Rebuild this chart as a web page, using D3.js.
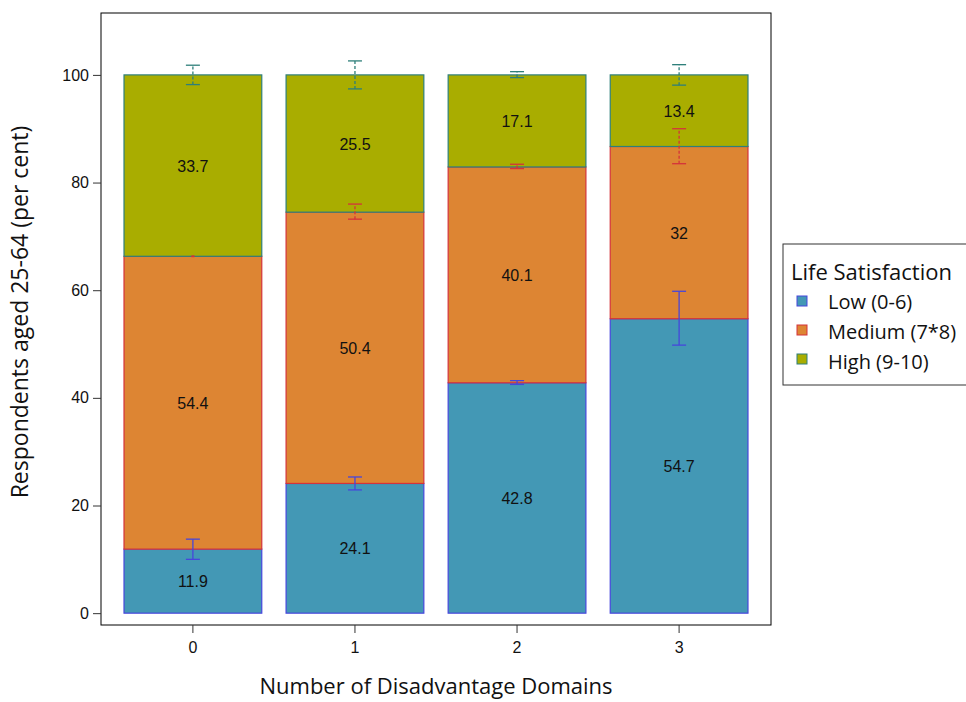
<!DOCTYPE html>
<html>
<head>
<meta charset="utf-8">
<script src="https://cdn.jsdelivr.net/npm/d3@7"></script>
<style>
  body { margin: 0; background: #fff; }
  svg { display: block; }
</style>
</head>
<body>
<svg width="966" height="702"></svg>
<script>
// categories and series
var domains = ["0", "1", "2", "3"];
var seriesNames = ["Low (0-6)", "Medium (7*8)", "High (9-10)"];
var low = [11.9, 24.1, 42.8, 54.7];
var medium = [54.4, 50.4, 40.1, 32];
var high = [33.7, 25.5, 17.1, 13.4];
// confidence intervals of the cumulative tops
var lowCI = [[10.0, 13.75], [22.9, 25.3], [42.5, 43.2], [49.8, 59.8]];
var mediumCI = [[66.25, 66.35], [73.2, 76.0], [82.6, 83.4], [83.5, 90.0]];
var highCI = [[98.2, 101.8], [97.4, 102.6], [99.5, 100.6], [98.1, 101.9]];
var yTicks = [0, 20, 40, 60, 80, 100];

var fills = ["#4398b5", "#dd8533", "#a9ad00"];
var strokes = ["#4646dc", "#d4333a", "#2e7f7a"];

var margin = {top: 13, right: 195, bottom: 77, left: 101},
    width = 966 - margin.left - margin.right,
    height = 702 - margin.top - margin.bottom;

var x = d3.scaleBand()
    .domain(domains)
    .range([0, width])
    .paddingInner(0.15)
    .paddingOuter(0.142);
var y = d3.scaleLinear()
    .domain([-2.2, 111.5])
    .range([height, 0]);

var svg = d3.select("svg")
  .append("g")
    .attr("transform", "translate(" + margin.left + "," + margin.top + ")");

// build stacked rows
var rows = domains.map(function(d, i) {
    return {dom: d, vals: [low[i], medium[i], high[i]], ci: [lowCI[i], mediumCI[i], highCI[i]]};
});

rows.forEach(function(r) {
    var base = 0;
    r.vals.forEach(function(v, k) {
        var y0 = base, y1 = k == 2 ? 100 : base + v;
        svg.append("rect")
            .attr("x", x(r.dom))
            .attr("width", x.bandwidth())
            .attr("y", y(y1))
            .attr("height", y(y0) - y(y1))
            .style("fill", fills[k])
            .style("stroke", strokes[k])
            .style("stroke-width", 1.2);
        base = y1;
    });
});

// value labels
rows.forEach(function(r) {
    var base = 0;
    r.vals.forEach(function(v, k) {
        var top = k == 2 ? 100 : base + v;
        svg.append("text")
            .attr("x", x(r.dom) + x.bandwidth() / 2)
            .attr("y", y((base + top) / 2) + 6)
            .attr("text-anchor", "middle")
            .style("font-family", "Liberation Sans, Arial, sans-serif")
            .style("font-size", "16px")
            .style("fill", "#111")
            .text(v);
        base = top;
    });
});

// error bars
rows.forEach(function(r) {
    var cx = x(r.dom) + x.bandwidth() / 2;
    r.ci.forEach(function(c, k) {
        var g = svg.append("g").style("stroke", strokes[k]).style("stroke-width", 1.3);
        var capW = (c[1] - c[0]) < 0.3 ? 1.5 : 7;
        g.append("line")
            .attr("x1", cx).attr("x2", cx)
            .attr("y1", y(c[0])).attr("y2", y(c[1]))
            .style("stroke-dasharray", k == 0 ? null : "3,2");
        c.forEach(function(e) {
            g.append("line")
                .attr("x1", cx - capW).attr("x2", cx + capW)
                .attr("y1", y(e)).attr("y2", y(e));
        });
    });
});

// frame
svg.append("rect")
    .attr("width", width)
    .attr("height", height)
    .style("fill", "none")
    .style("stroke", "#000")
    .style("stroke-width", 1);

// y axis
var yAxis = svg.append("g")
    .call(d3.axisLeft(y).tickValues(yTicks).tickSize(8).tickPadding(4));
yAxis.select(".domain").remove();
yAxis.selectAll("line").style("stroke", "#333");
yAxis.selectAll("text")
    .style("font-family", "Liberation Sans, Arial, sans-serif")
    .style("font-size", "16px")
    .style("fill", "#111");

// x axis
var xAxis = svg.append("g")
    .attr("transform", "translate(0," + height + ")")
    .call(d3.axisBottom(x).tickSize(8).tickPadding(9));
xAxis.select(".domain").remove();
xAxis.selectAll("line").style("stroke", "#333");
xAxis.selectAll("text")
    .style("font-family", "Liberation Sans, Arial, sans-serif")
    .style("font-size", "16px")
    .style("fill", "#111");

// axis titles
svg.append("text")
    .attr("x", width / 2)
    .attr("y", height + 69)
    .attr("text-anchor", "middle")
    .style("font-family", "Open Sans, sans-serif")
    .style("font-size", "22px")
    .style("fill", "#111")
    .text("Number of Disadvantage Domains");

svg.append("text")
    .attr("transform", "translate(-73," + (312 - margin.top) + ") rotate(-90)")
    .attr("text-anchor", "middle")
    .style("font-family", "Open Sans, sans-serif")
    .style("font-size", "23px")
    .style("fill", "#111")
    .text("Respondents aged 25-64 (per cent)");

// legend
var legend = d3.select("svg").append("g")
    .attr("transform", "translate(783,244)");
legend.append("rect")
    .attr("width", 190)
    .attr("height", 141)
    .style("fill", "#fff")
    .style("stroke", "#333");
legend.append("text")
    .attr("x", 8).attr("y", 36)
    .style("font-family", "Open Sans, sans-serif")
    .style("font-size", "22px")
    .style("fill", "#111")
    .text("Life Satisfaction");
seriesNames.forEach(function(s, k) {
    legend.append("rect")
        .attr("x", 14).attr("y", 52 + k * 29)
        .attr("width", 10).attr("height", 10)
        .style("fill", fills[k])
        .style("stroke", strokes[k]);
    legend.append("text")
        .attr("x", 45).attr("y", 65 + k * 30)
        .style("font-family", "Open Sans, sans-serif")
        .style("font-size", "20px")
        .style("fill", "#111")
        .text(s);
});
</script>
</body>
</html>
